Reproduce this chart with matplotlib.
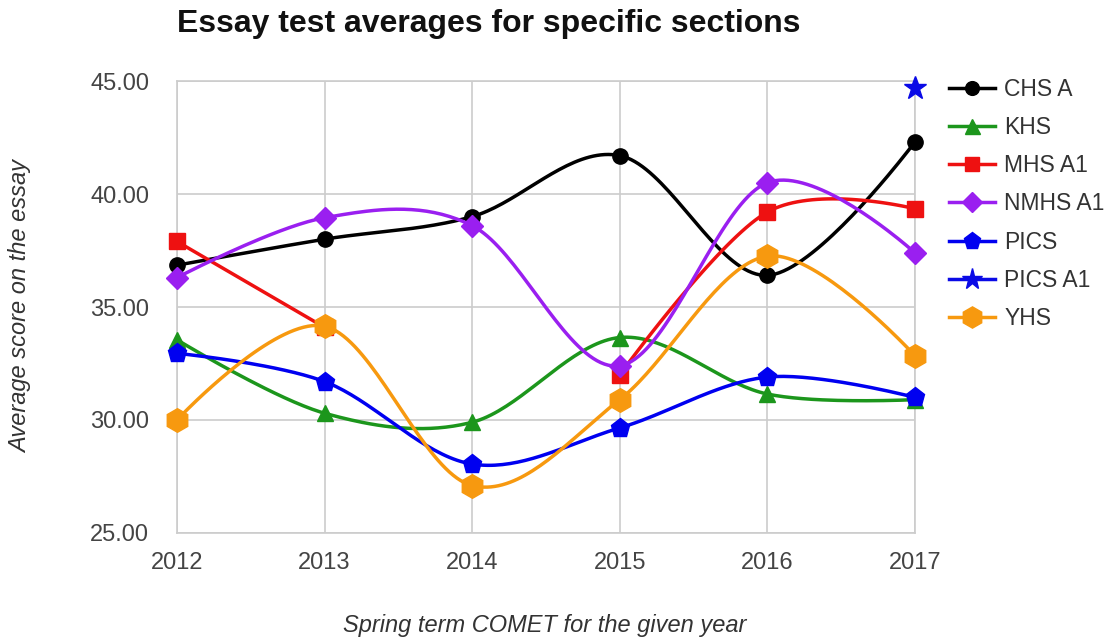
import matplotlib.pyplot as plt
import numpy as np

plt.rcParams['font.family'] = ['Liberation Sans', 'DejaVu Sans']

years = [2012, 2013, 2014, 2015, 2016, 2017]
chs_a = [36.85, 38.0, 39.0, 41.7, 36.4, 42.3]
khs = [33.55, 30.3, 29.9, 33.65, 31.15, 30.9]
mhs_a1 = [37.9, 34.1, None, 32.0, 39.2, 39.35]
nmhs_a1 = [36.3, 38.95, 38.6, 32.4, 40.5, 37.4]
pics = [32.95, 31.7, 28.05, 29.65, 31.9, 31.0]
pics_a1 = [None, None, None, None, None, 44.7]
yhs = [30.0, 34.15, 27.1, 30.9, 37.25, 32.85]

series = [
    ('CHS A', chs_a, '#000000', 'o', 11),
    ('KHS', khs, '#1c961c', '^', 12),
    ('MHS A1', mhs_a1, '#ee1111', 's', 11),
    ('NMHS A1', nmhs_a1, '#9a1ff0', 'D', 11),
    ('PICS', pics, '#0000f0', 'p', 14),
    ('PICS A1', pics_a1, '#0a0ae6', '*', 17),
    ('YHS', yhs, '#f7990f', 'h', 17),
]


def smooth(xs, ys, n=40):
    # bezier through the points, catmull-rom like tangents, flat ends
    xs = np.asarray(xs, float)
    ys = np.asarray(ys, float)
    if len(xs) < 3:
        return xs, ys
    k = len(xs)
    tx = np.zeros(k)
    ty = np.zeros(k)
    for i in range(1, k - 1):
        tx[i] = (xs[i + 1] - xs[i - 1]) / 2
        ty[i] = (ys[i + 1] - ys[i - 1]) / 2
    out_x, out_y = [], []
    t = np.linspace(0, 1, n)
    for i in range(k - 1):
        p0 = np.array([xs[i], ys[i]])
        p3 = np.array([xs[i + 1], ys[i + 1]])
        p1 = p0 + np.array([tx[i], ty[i]]) / 3
        p2 = p3 - np.array([tx[i + 1], ty[i + 1]]) / 3
        b = ((1 - t) ** 3)[:, None] * p0 + (3 * (1 - t) ** 2 * t)[:, None] * p1 \
            + (3 * (1 - t) * t ** 2)[:, None] * p2 + (t ** 3)[:, None] * p3
        out_x.extend(b[:, 0])
        out_y.extend(b[:, 1])
    return np.array(out_x), np.array(out_y)


fig = plt.figure(figsize=(11.08, 6.38), dpi=100)
ax = fig.add_axes([0.1597, 0.1646, 0.666, 0.7084])

handles = []
for z, (name, vals, color, marker, ms) in enumerate(series):
    # split into runs without missing values
    runs, cur = [], []
    for x, v in zip(years, vals):
        if v is None:
            if cur:
                runs.append(cur)
            cur = []
        else:
            cur.append((x, v))
    if cur:
        runs.append(cur)
    for run in runs:
        rx = [p[0] for p in run]
        ry = [p[1] for p in run]
        sx, sy = smooth(rx, ry)
        ax.plot(sx, sy, color=color, lw=2.5, zorder=3 + z, clip_on=False)
        ax.plot(rx, ry, linestyle='none', marker=marker, ms=ms, color=color,
                zorder=3 + z, clip_on=False)
    h, = ax.plot([], [], color=color, lw=2.5, marker=marker, ms=ms * 0.9, label=name)
    handles.append(h)

ax.set_xlim(2012, 2017)
ax.set_ylim(25, 45)
ax.set_xticks(years)
ax.set_yticks([25, 30, 35, 40, 45])
ax.set_yticklabels(['%.2f' % v for v in [25, 30, 35, 40, 45]])
ax.grid(True, color='#cccccc', lw=1.2)
ax.set_axisbelow(True)
for s in ax.spines.values():
    s.set_color('#cccccc')
    s.set_linewidth(1.2)
ax.tick_params(length=0, labelsize=17, colors='#444444')
ax.tick_params(axis='y', pad=20)
ax.tick_params(axis='x', pad=14)

fig.text(0.1597, 0.962, 'Essay test averages for specific sections', fontsize=23,
         fontweight='bold', va='center', ha='left', color='#111111')
fig.text(0.019, 0.52, 'Average score on the essay', rotation=90, fontsize=17,
         style='italic', va='center', ha='center', color='#333333')
fig.text(0.492, 0.02, 'Spring term COMET for the given year', fontsize=17,
         style='italic', va='center', ha='center', color='#333333')

fig.legend(handles=handles, loc='upper left', bbox_to_anchor=(0.838, 0.91),
           frameon=False, fontsize=16.5, handlelength=2.0, labelspacing=0.66,
           handletextpad=0.4, labelcolor='#333333')

fig.savefig('out.png', dpi=100)
